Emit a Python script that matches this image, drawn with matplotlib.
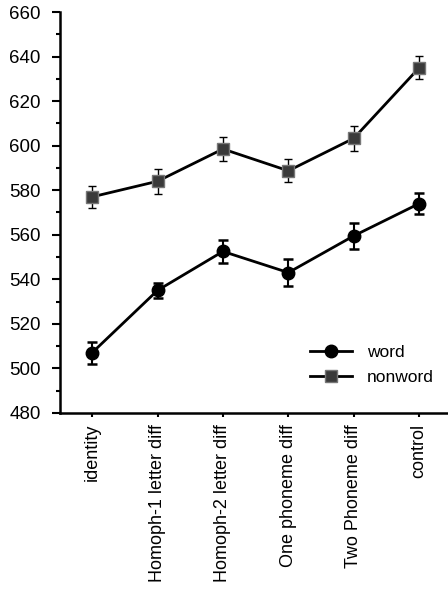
import numpy as np
import matplotlib
matplotlib.use("Agg")
from matplotlib import pyplot as plt
from matplotlib.ticker import MultipleLocator
from matplotlib.lines import Line2D

plt.rcParams['font.family'] = ['Liberation Sans', 'DejaVu Sans']

# prime types (x axis)
conditions = ['identity', 'Homoph-1 letter diff', 'Homoph-2 letter diff',
              'One phoneme diff', 'Two Phoneme diff', 'control']

# mean RT (ms) and error bars
word_rt = [507, 535, 552.5, 543, 559.5, 574]
word_err = [5, 3.5, 5.2, 5.9, 5.7, 4.6]
nonword_rt = [577, 584, 598.5, 588.7, 603.3, 635]
nonword_err = [5, 5.5, 5.5, 5.2, 5.5, 5.3]

fig = plt.figure(figsize=(4.48, 6.01), dpi=100)
ax = fig.add_axes([0.134, 0.313, 0.866, 0.667])

x = np.arange(len(conditions))

word_style = dict(color='black', lw=2, marker='o', markersize=9)
nonword_style = dict(color='black', lw=2, marker='s', markersize=8,
                     markerfacecolor='#3a3a3a', markeredgecolor='#777777')

ax.errorbar(x, word_rt, yerr=word_err, capsize=3.5, capthick=1.8,
            elinewidth=1.5, **word_style)
ax.errorbar(x, nonword_rt, yerr=nonword_err, capsize=3, capthick=1.0,
            elinewidth=1.0, **nonword_style)

ax.set_ylim(480, 660)
ax.set_xlim(-0.49, 5.44)
ax.yaxis.set_major_locator(MultipleLocator(20))
ax.yaxis.set_minor_locator(MultipleLocator(10))
ax.set_xticks(x)
ax.set_xticklabels(conditions, rotation=90, fontsize=13)
ax.tick_params(axis='y', which='major', length=6, width=1.5, pad=8, labelsize=13.5)
ax.tick_params(axis='y', which='minor', length=3, width=1.5)
ax.tick_params(axis='x', length=3, width=1.5, pad=5)

for s in ['top', 'right']:
    ax.spines[s].set_visible(False)
for s in ['left', 'bottom']:
    ax.spines[s].set_linewidth(1.8)

handles = [Line2D([], [], **word_style), Line2D([], [], **nonword_style)]
ax.legend(handles, ['word', 'nonword'], loc='upper left',
          bbox_to_anchor=(310 / 448, 1 - 345 / 601),
          bbox_transform=fig.transFigure, frameon=False, fontsize=12.5,
          handlelength=2.4, labelspacing=0.55, handletextpad=0.9,
          borderpad=0, borderaxespad=0)

fig.savefig('out.png', dpi=100)
